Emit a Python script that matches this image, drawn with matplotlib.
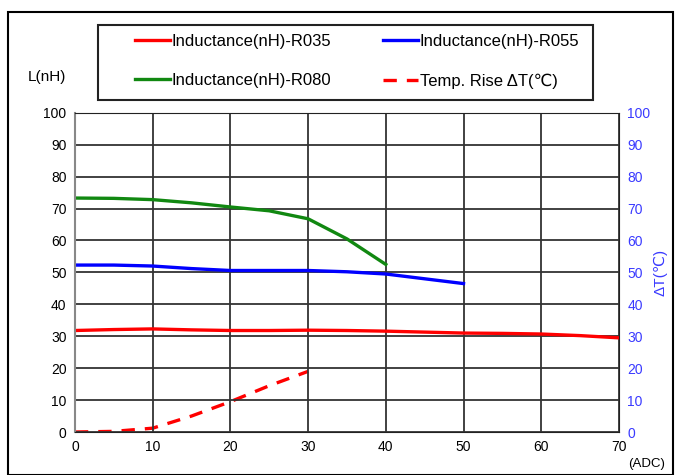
import matplotlib.pyplot as plt
from matplotlib.patches import Rectangle

plt.rcParams['font.family'] = ['Liberation Sans', 'DejaVu Sans']

# Current (ADC) and inductance readings
x_r035 = [0, 5, 10, 15, 20, 25, 30, 35, 40, 45, 50, 55, 60, 65, 70]
l_r035 = [31.8, 32.1, 32.3, 32.0, 31.8, 31.8, 31.9, 31.8, 31.6, 31.3, 31.0, 30.9, 30.7, 30.2, 29.5]

x_r055 = [0, 5, 10, 15, 20, 25, 30, 35, 40, 45, 50]
l_r055 = [52.3, 52.3, 52.0, 51.2, 50.6, 50.6, 50.6, 50.2, 49.5, 48.0, 46.5]

x_r080 = [0, 5, 10, 15, 20, 25, 30, 35, 40]
l_r080 = [73.3, 73.2, 72.8, 71.8, 70.5, 69.3, 66.8, 60.5, 52.5]

# Temperature rise
x_temp = [0, 5, 10, 15, 20, 25, 30]
dt_temp = [0, 0.2, 1.2, 5.0, 9.5, 14.5, 19.0]

fig = plt.figure(figsize=(6.75, 4.75), dpi=100)
ax = fig.add_axes([0.111, 0.0905, 0.806, 0.672])

ax.plot(x_r035, l_r035, color='#ff0000', lw=2.4, label='Inductance(nH)-R035')
ax.plot(x_r055, l_r055, color='#0000ff', lw=2.4, label='Inductance(nH)-R055')
ax.plot(x_r080, l_r080, color='#118811', lw=2.4, label='Inductance(nH)-R080')

ax2 = ax.twinx()
ax2.plot(x_temp, dt_temp, color='#ff0000', lw=2.4, ls=(0, (4, 3)), label='Temp. Rise ΔT(℃)')

ax.set_xlim(0, 70)
ax.set_ylim(0, 100)
ax2.set_ylim(0, 100)
ax.set_xticks(range(0, 71, 10))
ax.set_yticks(range(0, 101, 10))
ax2.set_yticks(range(0, 101, 10))
ax.grid(True, color='#333333', lw=1.3)
ax.tick_params(length=0, labelsize=10, pad=6)
ax2.tick_params(length=0, labelsize=10, labelcolor='#3a3aff', pad=6)
for sp in ['top', 'right', 'bottom']:
    ax.spines[sp].set_color('#222222')
    ax2.spines[sp].set_visible(False)
ax2.spines['left'].set_visible(False)
ax.spines['left'].set_color('#888888')
ax.spines['left'].set_linewidth(1.5)
ax.set_zorder(ax2.get_zorder() + 1)
ax.patch.set_visible(False)

fig.text(28 / 675, 1 - 77 / 475, 'L(nH)', fontsize=11, va='center')
fig.text(660 / 675, 1 - 272 / 475, 'ΔT(℃)', fontsize=11, color='#3a3aff',
         rotation=90, va='center', ha='center')
fig.text(628 / 675, 1 - 464 / 475, '(ADC)', fontsize=9.5, va='center')

# Legend
h1, lb1 = ax.get_legend_handles_labels()
h2, lb2 = ax2.get_legend_handles_labels()
handles = [h1[0], h1[2], h1[1], h2[0]]
labels = [lb1[0], lb1[2], lb1[1], lb2[0]]
leg = fig.legend(handles, labels, ncol=2, loc='upper left',
                 bbox_to_anchor=(135 / 675, 1 - 34 / 475), frameon=False,
                 fontsize=12, borderpad=0, borderaxespad=0,
                 handlelength=2.1, handletextpad=0.1, columnspacing=3.1,
                 labelspacing=1.45)

fig.patches.append(Rectangle((98 / 675, 1 - 100 / 475), 495 / 675, 75 / 475,
                             transform=fig.transFigure, fill=False,
                             edgecolor='#222222', lw=1.5))
fig.patches.append(Rectangle((8 / 675, 0.0), 665 / 675, 1 - 12 / 475,
                             transform=fig.transFigure, fill=False,
                             edgecolor='black', lw=1.5))

fig.savefig('out.png', dpi=100)
